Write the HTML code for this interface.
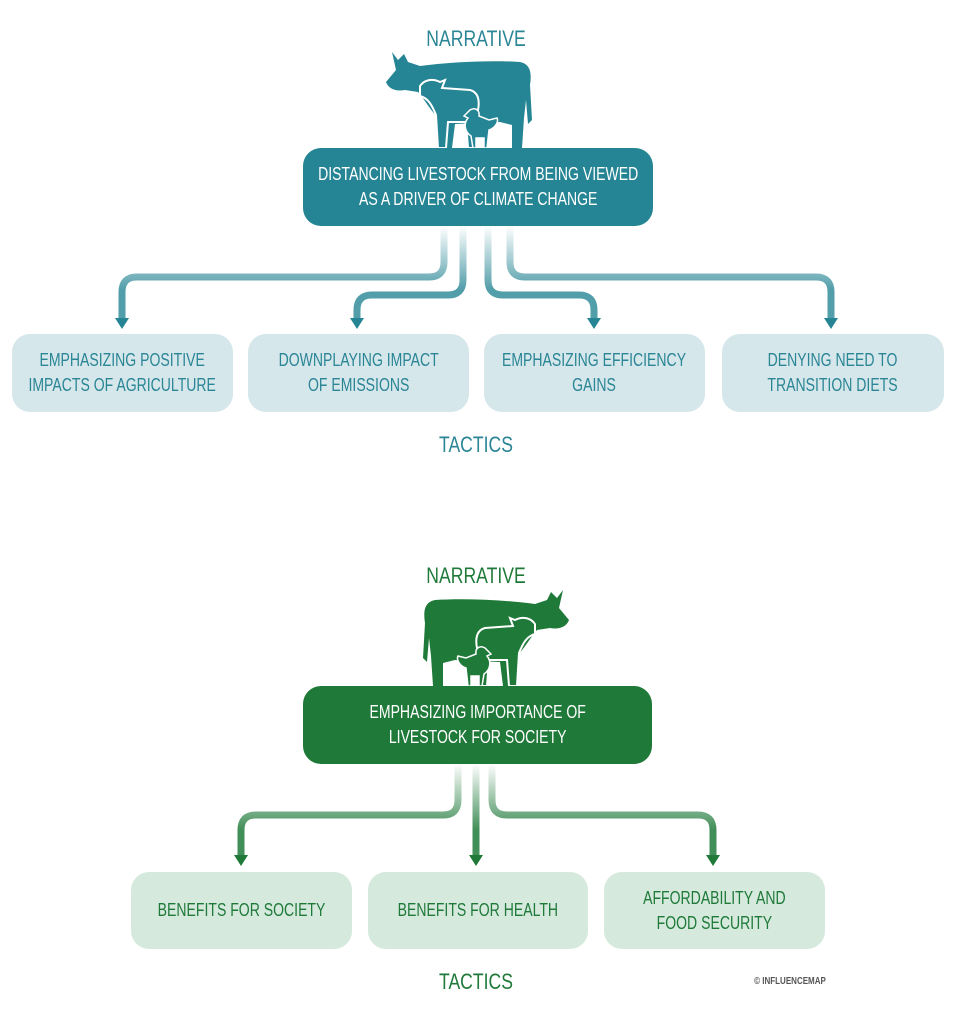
<!DOCTYPE html>
<html><head><style>
body{margin:0;background:#fff;width:956px;height:1024px;position:relative;overflow:hidden;font-family:"Liberation Sans Narrow","Liberation Sans",sans-serif;}
.t{position:absolute;text-align:center;transform:scaleX(.8);transform-origin:center;}
.box{position:absolute;border-radius:18px;display:flex;align-items:center;justify-content:center;text-align:center;font-size:18px;line-height:25px;}
.box span{display:inline-block;transform:scaleX(.78);white-space:nowrap}
.tl{background:#d5e7eb;color:#2a8595}
.gl{background:#d5e9dd;color:#1f7a3a}
svg{position:absolute;left:0;top:0}
</style></head><body>
<svg width="956" height="1024">
<defs>
<linearGradient id="gt" x1="0" y1="226" x2="0" y2="290" gradientUnits="userSpaceOnUse"><stop offset="0" stop-color="#268594" stop-opacity="0"/><stop offset="1" stop-color="#268594" stop-opacity=".8"/></linearGradient>
<linearGradient id="gg" x1="0" y1="764" x2="0" y2="830" gradientUnits="userSpaceOnUse"><stop offset="0" stop-color="#1f7a3a" stop-opacity="0"/><stop offset="1" stop-color="#1f7a3a" stop-opacity=".85"/></linearGradient>
<g id="animals">
<path d="M392 52 L398 60 L404 54 L408 62 L420 66 C450 62 490 60 520 62 C530 64 532 72 530 85 L532 120 L528 124 L526 100 L524 118 L522 148 L512 148 L512 125 L500 122 L455 124 L452 148 L442 148 L440 120 C430 110 425 100 418 92 L405 90 C395 92 388 88 386 82 L396 70 Z"/>
<path d="M420 86 C424 80 432 78 440 82 L445 80 L442 88 L470 90 C478 92 480 100 478 110 L476 148 L468 148 L466 122 L448 122 L446 148 L438 148 L436 115 C432 105 428 98 420 96 Z" stroke="#fff" stroke-width="2"/>
<path d="M470 110 C475 107 480 110 479 116 L489 120 L497 118 C499 122 495 128 489 130 L487 148 L484 148 L484 138 L476 138 L476 148 L473 148 L471 136 C465 132 463 124 468 118 L464 116 Z" stroke="#fff" stroke-width="1.5"/>
</g>
</defs>
<g fill="none" stroke-width="7">
<path d="M444 226 V262 Q444 277 429 277 H137 Q122 277 122 292 V320" stroke="url(#gt)"/>
<path d="M463 226 V280 Q463 295 448 295 H372 Q357 295 357 310 V320" stroke="url(#gt)"/>
<path d="M488 226 V280 Q488 295 503 295 H579 Q594 295 594 310 V320" stroke="url(#gt)"/>
<path d="M510 226 V262 Q510 277 525 277 H816 Q831 277 831 292 V320" stroke="url(#gt)"/>
<path d="M458 764 V800 Q458 815 443 815 H256 Q241 815 241 830 V857" stroke="url(#gg)"/>
<path d="M476 764 V857" stroke="url(#gg)"/>
<path d="M492 764 V800 Q492 815 507 815 H698 Q713 815 713 830 V857" stroke="url(#gg)"/>
</g>
<g fill="#268594">
<path d="M115 318h14l-7 11z"/><path d="M350 318h14l-7 11z"/><path d="M587 318h14l-7 11z"/><path d="M824 318h14l-7 11z"/>
</g>
<g fill="#1f7a3a">
<path d="M234 855h14l-7 11z"/><path d="M469 855h14l-7 11z"/><path d="M706 855h14l-7 11z"/>
</g>
<use href="#animals" fill="#268594"/>
<use href="#animals" fill="#1f7a3a" transform="translate(955,538) scale(-1,1)"/>
</svg>

<div class="t" style="left:376px;width:200px;top:26px;font-size:22px;color:#2a8595">NARRATIVE</div>
<div class="box" style="left:303px;top:148px;width:350px;height:78px;background:#268594;color:#fff;"><span>DISTANCING LIVESTOCK FROM BEING VIEWED<br>AS A DRIVER OF CLIMATE CHANGE</span></div>
<div class="box tl" style="left:12px;top:334px;width:221px;height:78px"><span>EMPHASIZING POSITIVE<br>IMPACTS OF AGRICULTURE</span></div>
<div class="box tl" style="left:248px;top:334px;width:221px;height:78px"><span>DOWNPLAYING IMPACT<br>OF EMISSIONS</span></div>
<div class="box tl" style="left:484px;top:334px;width:221px;height:78px"><span>EMPHASIZING EFFICIENCY<br>GAINS</span></div>
<div class="box tl" style="left:722px;top:334px;width:222px;height:78px"><span>DENYING NEED TO<br>TRANSITION DIETS</span></div>
<div class="t" style="left:376px;width:200px;top:432px;font-size:22px;color:#2a8595">TACTICS</div>

<div class="t" style="left:376px;width:200px;top:563px;font-size:22px;color:#1f7a3a">NARRATIVE</div>
<div class="box" style="left:303px;top:686px;width:349px;height:78px;background:#1f7a3a;color:#fff;"><span>EMPHASIZING IMPORTANCE OF<br>LIVESTOCK FOR SOCIETY</span></div>
<div class="box gl" style="left:131px;top:872px;width:221px;height:77px"><span>BENEFITS FOR SOCIETY</span></div>
<div class="box gl" style="left:368px;top:872px;width:220px;height:77px"><span>BENEFITS FOR HEALTH</span></div>
<div class="box gl" style="left:604px;top:872px;width:221px;height:77px"><span>AFFORDABILITY AND<br>FOOD SECURITY</span></div>
<div class="t" style="left:376px;width:200px;top:969px;font-size:22px;color:#1f7a3a">TACTICS</div>
<div class="t" style="left:740px;width:100px;top:976px;font-size:10px;color:#555;font-weight:bold">© INFLUENCEMAP</div>
</body></html>
